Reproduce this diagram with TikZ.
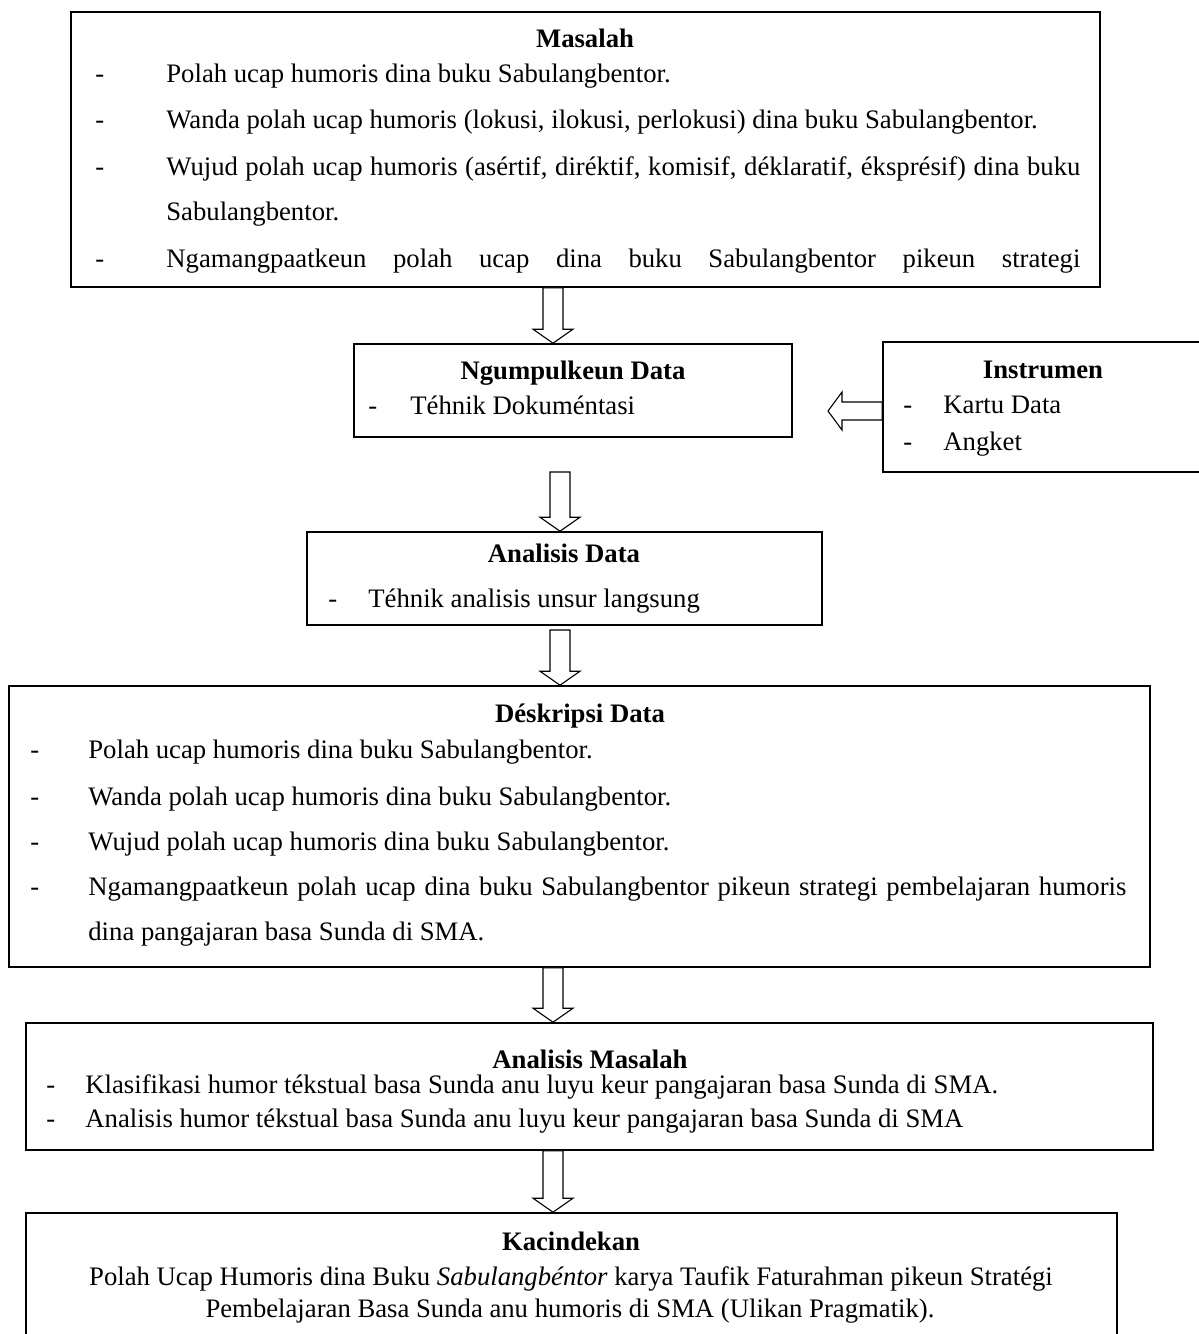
\documentclass[tikz,border=0pt]{standalone}
\usepackage{fontspec}
\setmainfont{Liberation Serif}
\usetikzlibrary{calc,fit}
\newcommand\fs{\fontsize{13.35}{16}\selectfont}
\newcommand\blockdown[3]{%
  \draw[blk] let \p0=(#1,0), \p1=(#2), \p2=(#3) in
    (\x0-5pt,\y1) -- (\x0-5pt,\y2+7pt) -- (\x0-10pt,\y2+7pt) -- (\x0,\y2)
    -- (\x0+10pt,\y2+7pt) -- (\x0+5pt,\y2+7pt) -- (\x0+5pt,\y1) -- cycle;}
\newcommand\blockleft[3]{%
  \draw[blk] let \p0=(0,#1), \p1=(#2), \p2=(#3) in
    (\x1,\y0+4.5pt) -- (\x2+7pt,\y0+4.5pt) -- (\x2+7pt,\y0+9.5pt) -- (\x2,\y0)
    -- (\x2+7pt,\y0-9.5pt) -- (\x2+7pt,\y0-4.5pt) -- (\x1,\y0-4.5pt) -- cycle;}
\tikzset{
  box/.style={draw, line width=0.8pt, inner sep=0pt},
  blk/.style={draw, line width=0.55pt, fill=white, line join=miter},
  txt/.style={anchor=base west, inner sep=0pt, font=\fs},
  ttl/.style={anchor=base, inner sep=0pt, font=\fs\bfseries},
  ctr/.style={anchor=base, inner sep=0pt, font=\fs},
}
\begin{document}
\begin{tikzpicture}[x=0.5pt, y=-0.5pt]
\useasboundingbox (0,0) rectangle (1199,1334);
\clip (0,0) rectangle (1199,1334);
\fill[white] (0,0) rectangle (1199,1334);

% boxes
\node[box, fit={(71,12) (1100,287)}] (b1) {};
\node[box, fit={(354,344) (792,437)}] (b2) {};
\node[box, fit={(883,342) (1210,472)}] (ins) {};
\node[box, fit={(307,532) (822,625)}] (b3) {};
\node[box, fit={(9,686) (1150,967)}] (b4) {};
\node[box, fit={(26,1023) (1153,1150)}] (b5) {};
\node[box, fit={(26,1213) (1117,1360)}] (b6) {};

% free arrow ends
\coordinate (a2s) at (560,472);
\coordinate (a3s) at (560,630);
\coordinate (lt) at (828,411);

% arrows
\blockdown{553}{b1.south}{b2.north}
\blockdown{560}{a2s}{b3.north}
\blockdown{560}{a3s}{b4.north}
\blockdown{553}{b4.south}{b5.north}
\blockdown{553}{b5.south}{b6.north}
\blockleft{411}{ins.west}{lt}

% Masalah
\node[ttl] (t1) at (585,47) {Masalah};
\node[txt] (d11) at (95,82) {-};
\node[txt] (l11) at (166,82) {Polah ucap humoris dina buku Sabulangbentor.};
\node[txt] (d12) at (95,128) {-};
\node[txt] (l12) at (166,128) {Wanda polah ucap humoris (lokusi, ilokusi, perlokusi) dina buku Sabulangbentor.};
\node[txt] (d13) at (95,175) {-};
\node[txt] (l13) at (166,175) {\makebox[457pt][s]{Wujud polah ucap humoris (asértif, diréktif, komisif, déklaratif, éksprésif) dina buku}};
\node[txt] (l13b) at (166,220) {Sabulangbentor.};
\node[txt] (d14) at (95,267) {-};
\node[txt] (l14) at (166,267) {\makebox[457pt][s]{Ngamangpaatkeun polah ucap dina buku Sabulangbentor pikeun strategi}};

% Ngumpulkeun Data
\node[ttl] (t2) at (573,379) {Ngumpulkeun Data};
\node[txt] (d21) at (368,414) {-};
\node[txt] (l21) at (410,414) {Téhnik Dokuméntasi};

% Instrumen
\node[ttl] (ti) at (1043,378) {Instrumen};
\node[txt] (di1) at (903,413) {-};
\node[txt] (li1) at (943,413) {Kartu Data};
\node[txt] (di2) at (903,450) {-};
\node[txt] (li2) at (943,450) {Angket};

% Analisis Data
\node[ttl] (t3) at (564,562) {Analisis Data};
\node[txt] (d31) at (328,607) {-};
\node[txt] (l31) at (368,607) {Téhnik analisis unsur langsung};

% Deskripsi Data
\node[ttl] (t4) at (580,722) {Déskripsi Data};
\node[txt] (d41) at (30,758) {-};
\node[txt] (l41) at (88,758) {Polah ucap humoris dina buku Sabulangbentor.};
\node[txt] (d42) at (30,805) {-};
\node[txt] (l42) at (88,805) {Wanda polah ucap humoris dina buku Sabulangbentor.};
\node[txt] (d43) at (30,850) {-};
\node[txt] (l43) at (88,850) {Wujud polah ucap humoris dina buku Sabulangbentor.};
\node[txt] (d44) at (30,895) {-};
\node[txt] (l44) at (88,895) {\makebox[519pt][s]{Ngamangpaatkeun polah ucap dina buku Sabulangbentor pikeun strategi pembelajaran humoris}};
\node[txt] (l44b) at (88,940) {dina pangajaran basa Sunda di SMA.};

% Analisis Masalah
\node[ttl] (t5) at (590,1068) {Analisis Masalah};
\node[txt] (d51) at (46,1093) {-};
\node[txt] (l51) at (85,1093) {Klasifikasi humor tékstual basa Sunda anu luyu keur pangajaran basa Sunda di SMA.};
\node[txt] (d52) at (46,1127) {-};
\node[txt] (l52) at (85,1127) {Analisis humor tékstual basa Sunda anu luyu keur pangajaran basa Sunda di SMA};

% Kacindekan
\node[ttl] (t6) at (571,1250) {Kacindekan};
\node[ctr] (l61) at (571,1285) {Polah Ucap Humoris dina Buku \textit{Sabulangbéntor} karya Taufik Faturahman pikeun Stratégi};
\node[ctr] (l62) at (570,1317) {Pembelajaran Basa Sunda anu humoris di SMA (Ulikan Pragmatik).};
\end{tikzpicture}
\end{document}
